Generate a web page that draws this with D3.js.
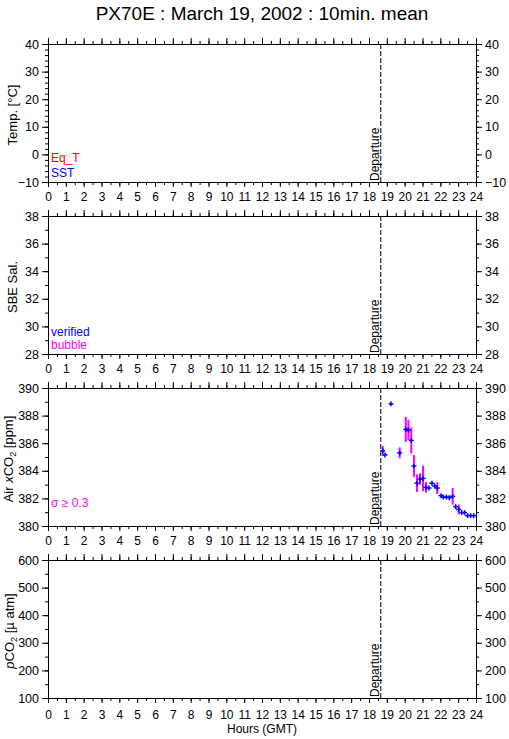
<!DOCTYPE html>
<html>
<head>
<meta charset="utf-8">
<script src="https://cdn.jsdelivr.net/npm/d3@7"></script>
<style>
  body { margin: 0; background: #fff; }
  svg { display: block; }
  text { font-family: "Liberation Sans", Arial, Helvetica, sans-serif; }
</style>
</head>
<body>
<svg id="chart" width="509" height="739"></svg>
<script>
// ---- data ----
const titleText = "PX70E : March 19, 2002 : 10min. mean";
const hourTicks = d3.range(0, 25);
const halfHourTicks = d3.range(0, 24.01, 0.5);
const departureHour = 18.66;

const yDomains = [[-10, 40], [28, 38], [380, 390], [100, 600]];
const yMajorTicks = [d3.range(-10, 41, 10), d3.range(28, 39, 2), d3.range(380, 391, 2), d3.range(100, 601, 100)];
const yMinorTicks = [d3.range(-10, 41, 2), d3.range(28, 39, 1), d3.range(380, 391, 1), d3.range(100, 601, 50)];

// air xCO2 10 min means (panel 3)
const xco2Hours = [18.77, 18.90, 19.23, 19.72, 20.06, 20.21, 20.37, 20.52, 20.69, 20.86, 21.03, 21.20, 21.36, 21.53,
                   21.68, 21.83, 22.04, 22.17, 22.34, 22.50, 22.69, 22.86, 23.03, 23.20, 23.36, 23.53, 23.70, 23.87];
const xco2Values = [385.45, 385.15, 388.85, 385.30, 387.00, 386.95, 386.20, 384.35, 383.10, 383.40, 383.45, 382.80, 382.75, 383.10,
                    382.90, 382.75, 382.20, 382.10, 382.10, 382.05, 382.15, 381.40, 381.20, 380.97, 380.97, 380.75, 380.75, 380.75];
const xco2Sigma = [0.36, 0, 0, 0.40, 0.91, 0.73, 0.94, 0.79, 0.64, 0.42, 0.92, 0.39, 0, 0,
                   0, 0.42, 0, 0, 0, 0, 0.60, 0, 0.36, 0, 0, 0, 0, 0];

// ---- layout ----
const svg = d3.select('#chart');
const left = 48, right = 476;
const panelTops = [44, 216, 388, 560];
const panelH = 138;
const yLabels = ["temp", "sal", "xco2", "pco2"];
const yLabelX = [17, 17, 13, 14];

const x = d3.scaleLinear().domain([0, 24]).range([left, right]);

svg.append("text")
    .attr("x", (left + right) / 2)
    .attr("y", 20)
    .attr("text-anchor", "middle")
    .attr("font-size", 19)
    .text(titleText);

panelTops.forEach((top, i) => {
    const bottom = top + panelH;
    const y = d3.scaleLinear().domain(yDomains[i]).range([bottom, top]);
    const g = svg.append("g");
    const noDomain = s => s.select(".domain").remove();

    // frame
    g.append("rect")
        .attr("x", left + 0.5).attr("y", top + 0.5)
        .attr("width", right - left).attr("height", panelH)
        .attr("fill", "none").attr("stroke", "#000")
        .attr("shape-rendering", "crispEdges");

    // bottom axis with hour labels
    g.append("g").attr("transform", `translate(0,${bottom})`)
        .call(d3.axisBottom(x).tickValues(halfHourTicks).tickSize(3).tickFormat(""))
        .call(noDomain);
    g.append("g").attr("transform", `translate(0,${bottom})`)
        .call(d3.axisBottom(x).tickValues(hourTicks).tickSize(5).tickPadding(i === 3 ? 7.5 : 5.5).tickFormat(d3.format("d")))
        .call(noDomain)
        .call(s => s.selectAll("text").attr("font-size", 12).attr("font-family", null));

    // top axis
    g.append("g").attr("transform", `translate(0,${top})`)
        .call(d3.axisTop(x).tickValues(halfHourTicks).tickSize(3).tickFormat(""))
        .call(noDomain);
    g.append("g").attr("transform", `translate(0,${top})`)
        .call(d3.axisTop(x).tickValues(hourTicks).tickSize(6).tickFormat(""))
        .call(noDomain);

    // left / right axes
    [[d3.axisLeft, left], [d3.axisRight, right]].forEach(([ax, pos]) => {
        g.append("g").attr("transform", `translate(${pos},0)`)
            .call(ax(y).tickValues(yMinorTicks[i]).tickSize(3).tickFormat(""))
            .call(noDomain);
        g.append("g").attr("transform", `translate(${pos},0)`)
            .call(ax(y).tickValues(yMajorTicks[i]).tickSize(6).tickPadding(3).tickFormat(d3.format("d")))
            .call(noDomain)
            .call(s => s.selectAll("text").attr("font-size", 12.5).attr("font-family", null));
    });

    // departure marker
    const dx = x(departureHour);
    g.append("line")
        .attr("x1", dx).attr("x2", dx).attr("y1", top).attr("y2", bottom)
        .attr("stroke", "#000").attr("stroke-dasharray", "5,2");
    g.append("text")
        .attr("transform", `translate(${dx - 1.5},${bottom - 1}) rotate(-90)`)
        .attr("font-size", 12)
        .text("Departure");

    // y label
    const yl = g.append("text")
        .attr("transform", `translate(${yLabelX[i]},${(top + bottom) / 2 + 2}) rotate(-90)`)
        .attr("text-anchor", "middle")
        .attr("font-size", 13);
    if (yLabels[i] === "temp") yl.text("Temp. [°C]");
    if (yLabels[i] === "sal") yl.text("SBE Sal.");
    if (yLabels[i] === "xco2") {
        yl.append("tspan").text("Air ");
        yl.append("tspan").attr("font-style", "italic").text("x");
        yl.append("tspan").text("CO");
        yl.append("tspan").attr("font-size", 9).attr("dy", 3).text("2");
        yl.append("tspan").attr("dy", -3).text(" [ppm]");
    }
    if (yLabels[i] === "pco2") {
        yl.append("tspan").attr("font-style", "italic").text("p");
        yl.append("tspan").text("CO");
        yl.append("tspan").attr("font-size", 9).attr("dy", 3).text("2");
        yl.append("tspan").attr("dy", -3).text(" [µ atm]");
    }

    // legends
    const legend = (txt, yy, col) => g.append("text")
        .attr("x", left + 3).attr("y", yy).attr("font-size", 12).attr("fill", col).text(txt);
    if (i === 0) { legend("Eq_T", 161.5, "#f00"); legend("SST", 176.5, "#00f"); }
    if (i === 1) { legend("verified", 336, "#00f"); legend("bubble", 349, "#f0f"); }
    if (i === 2) {
        legend("σ ≥ 0.3", 507, "#f0f");

        const pts = xco2Hours.map((h, k) => ({h, v: xco2Values[k], s: xco2Sigma[k]}));
        g.append("g").selectAll("line")
            .data(pts.filter(d => d.s >= 0.3))
            .join("line")
            .attr("x1", d => x(d.h)).attr("x2", d => x(d.h))
            .attr("y1", d => y(d.v - d.s)).attr("y2", d => y(d.v + d.s))
            .attr("stroke", "#f0f").attr("stroke-width", 2);
        const cross = g.append("g").attr("stroke", "#00f").attr("stroke-width", 1.5)
            .selectAll("g").data(pts).join("g")
            .attr("transform", d => `translate(${x(d.h)},${y(d.v)})`);
        cross.append("line").attr("x1", -2.5).attr("x2", 2.5);
        cross.append("line").attr("y1", -2.5).attr("y2", 2.5);
    }
});

svg.append("text")
    .attr("x", (left + right) / 2)
    .attr("y", 733)
    .attr("text-anchor", "middle")
    .attr("font-size", 12)
    .text("Hours (GMT)");
</script>
</body>
</html>
